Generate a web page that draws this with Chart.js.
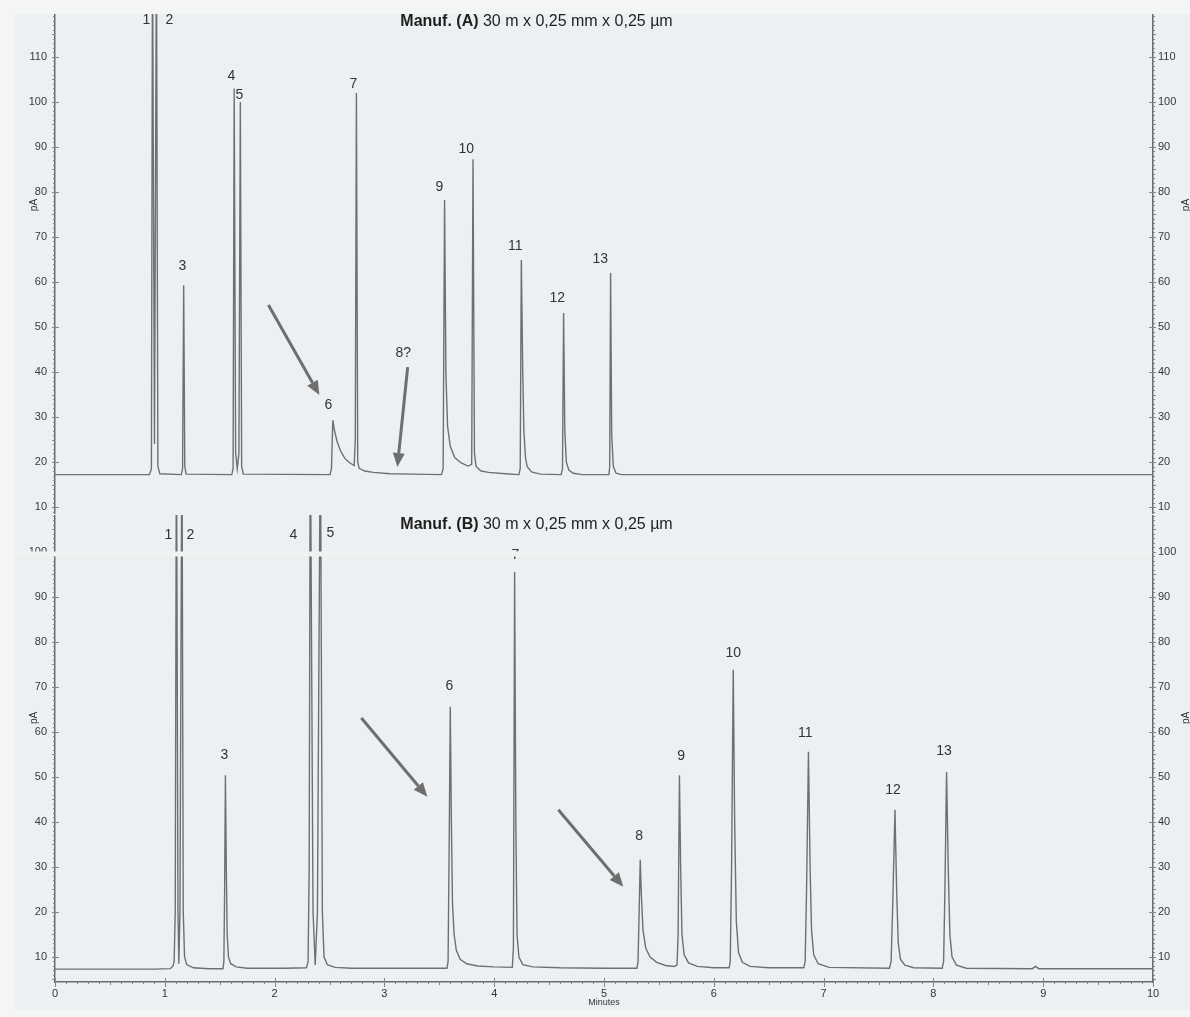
<!DOCTYPE html>
<html>
<head>
<meta charset="utf-8">
<title>Chromatogram comparison</title>
<script src="https://cdn.jsdelivr.net/npm/chart.js@4.4.1/dist/chart.umd.min.js"></script>
<style>
  html, body { margin: 0; padding: 0; background: #f4f5f5; }
  body { width: 1190px; height: 1017px; position: relative; overflow: hidden; }
  #panel { position: absolute; left: 15px; top: 14px; width: 1175px; height: 996px; background: #edf0f2; }
  canvas { position: absolute; left: 0; }
  #chartA { top: 14px; }
  #chartB { top: 515px; }
</style>
</head>
<body>
<div id="panel"></div>
<canvas id="chartA" width="1190" height="500"></canvas>
<canvas id="chartB" width="1190" height="495"></canvas>
<script>
// ---- Manuf. (A) trace: retention time (min) / signal (pA) ----
const timeA = [0, 0.86, 0.878, 0.888, 0.906, 0.924, 0.937, 0.955,
  1.15, 1.162, 1.172, 1.182, 1.195,
  1.61, 1.622, 1.632, 1.645, 1.66, 1.675, 1.688, 1.70, 1.715,
  2.505, 2.518, 2.53, 2.545, 2.57, 2.6, 2.64, 2.68, 2.725,
  2.735, 2.745, 2.757, 2.77, 2.82, 2.9, 3.05, 3.25,
  3.52, 3.535, 3.548, 3.56, 3.575, 3.6, 3.64, 3.7, 3.76,
  3.795, 3.807, 3.82, 3.835, 3.88, 3.95, 4.1,
  4.225, 4.237, 4.247, 4.26, 4.27, 4.285, 4.30, 4.34, 4.42,
  4.61, 4.622, 4.632, 4.643, 4.657, 4.68, 4.72, 4.8,
  5.045, 5.052, 5.06, 5.07, 5.085, 5.11, 5.16, 10];
const signalA = [17.2, 17.2, 18.5, 135, 24, 135, 19, 17.4,
  17.2, 18.5, 59.3, 19, 17.3,
  17.2, 18.5, 103, 22, 18.5, 22, 100, 19, 17.3,
  17.2, 18.5, 29.3, 27, 24.5, 22.5, 20.8, 19.9, 19.2,
  25, 102, 20, 18.6, 18, 17.7, 17.4, 17.3,
  17.2, 18.5, 78.2, 40, 28, 23.5, 21, 19.8, 19.1,
  19.5, 87.3, 22, 19, 18, 17.7, 17.4,
  17.2, 18.5, 64.9, 40, 27, 21, 19, 17.8, 17.3,
  17.2, 18.5, 53.1, 27, 20, 18.2, 17.5, 17.2,
  17.2, 19, 62, 26, 19, 17.5, 17.2, 17.2];

// ---- Manuf. (B) trace ----
const timeB = [0, 0.9, 1.05, 1.075, 1.085, 1.095, 1.106, 1.12, 1.128, 1.138, 1.156, 1.168, 1.18, 1.2, 1.26, 1.4,
  1.53, 1.538, 1.545, 1.552, 1.56, 1.568, 1.58, 1.6, 1.65, 1.75, 2.1,
  2.29, 2.305, 2.315, 2.325, 2.35, 2.37, 2.39, 2.417, 2.435, 2.45, 2.48, 2.55, 2.7,
  3.57, 3.58, 3.59, 3.60, 3.61, 3.62, 3.635, 3.655, 3.69, 3.75, 3.85, 4.0,
  4.165, 4.175, 4.186, 4.197, 4.208, 4.225, 4.26, 4.35, 4.6, 5.0,
  5.3, 5.31, 5.32, 5.33, 5.34, 5.355, 5.38, 5.42, 5.48, 5.56, 5.64,
  5.665, 5.675, 5.687, 5.698, 5.71, 5.73, 5.77, 5.85, 6.0,
  6.14, 6.15, 6.162, 6.177, 6.19, 6.205, 6.225, 6.26, 6.33, 6.5,
  6.82, 6.832, 6.845, 6.862, 6.877, 6.89, 6.91, 6.95, 7.05,
  7.6, 7.615, 7.63, 7.65, 7.665, 7.68, 7.7, 7.74, 7.82,
  8.08, 8.093, 8.105, 8.12, 8.135, 8.15, 8.17, 8.21, 8.3,
  8.9, 8.93, 8.96, 10];
const signalB = [7.3, 7.3, 7.4, 8, 9, 20, 130, 20, 8.5, 20, 130, 20, 10, 8.3, 7.6, 7.4,
  7.4, 9, 25, 50.4, 30, 15, 10, 8.5, 7.8, 7.5, 7.5,
  7.6, 9, 30, 130, 20, 8.2, 20, 130, 20, 10, 8.3, 7.7, 7.5,
  7.5, 9, 35, 65.6, 40, 22, 15, 11.5, 9.5, 8.5, 8, 7.8,
  7.7, 12, 95.6, 40, 15, 10, 8.3, 7.8, 7.6, 7.5,
  7.5, 9, 20, 31.6, 24, 16, 12, 10, 8.8, 8.1, 7.9,
  8.2, 15, 50.4, 30, 15, 10.5, 8.7, 7.9, 7.6,
  7.6, 9, 30, 73.8, 40, 18, 11, 8.8, 7.9, 7.6,
  7.6, 9, 25, 55.6, 30, 16, 10.5, 8.5, 7.7,
  7.5, 9, 22, 42.7, 25, 13, 9.5, 8.2, 7.6,
  7.5, 9, 25, 51.1, 30, 15, 10, 8.2, 7.5,
  7.4, 7.9, 7.4, 7.4];

// peak numbers and where they are written (min / pA)
const peakLabelsA = ["1", "2", "3", "4", "5", "6", "7", "8?", "9", "10", "11", "12", "13"];
const labelTimeA = [0.833, 1.042, 1.161, 1.607, 1.68, 2.49, 2.717, 3.172, 3.5, 3.746, 4.192, 4.574, 4.966];
const labelLevelA = [118.2, 118.2, 63.6, 105.8, 101.6, 32.7, 104, 44.2, 81.1, 89.6, 68, 56.4, 65.1];

const peakLabelsB = ["1", "2", "3", "4", "5", "6", "7", "8", "9", "10", "11", "12", "13"];
const labelTimeB = [1.033, 1.233, 1.543, 2.171, 2.508, 3.591, 4.192, 5.321, 5.703, 6.177, 6.832, 7.633, 8.097];
const labelLevelB = [103.8, 103.8, 54.9, 103.8, 104.2, 70.2, 99.2, 36.9, 54.7, 77.6, 59.8, 47.1, 55.8];

// arrows: [from time, from pA, to time, to pA]
const arrowsA = [[1.944, 54.9, 2.408, 34.9], [3.212, 41.1, 3.118, 18.9]];
const arrowsB = [[2.79, 63.1, 3.391, 45.6], [4.584, 42.7, 5.176, 25.6]];

const FONT = "'Liberation Sans', Arial, Helvetica, sans-serif";
Chart.defaults.font.family = FONT;

// Draws ticks, peak numbers, arrows, header and axis titles
const decorPlugin = {
  id: "decor",
  afterDraw(chart, args, o) {
    const ctx = chart.ctx;
    const xs = chart.scales.x, ys = chart.scales.y;
    const area = chart.chartArea;
    ctx.save();

    // y ticks on both axes
    ctx.strokeStyle = "#858585";
    ctx.lineWidth = 1;
    ctx.beginPath();
    for (let v = Math.ceil(ys.min); v <= ys.max; v++) {
      const py = Math.round(ys.getPixelForValue(v)) + 0.5;
      const out = v % 5 === 0 ? 3 : 2;
      ctx.moveTo(area.left - out, py); ctx.lineTo(area.left, py);
      ctx.moveTo(area.right, py); ctx.lineTo(area.right + out, py);
      if (v % 10 === 0) {
        ctx.moveTo(area.left, py); ctx.lineTo(area.left + 4, py);
        ctx.moveTo(area.right - 4, py); ctx.lineTo(area.right, py);
      }
    }
    ctx.stroke();

    // x ticks (only where the axis is shown)
    if (o.xAxis) {
      ctx.beginPath();
      for (let i = 0; i <= 100; i++) {
        const px = Math.round(xs.getPixelForValue(i / 10)) + 0.5;
        const len = i % 10 === 0 ? 5 : (i % 5 === 0 ? 3 : 2);
        ctx.moveTo(px, area.bottom - (i % 10 === 0 ? 4 : 0));
        ctx.lineTo(px, area.bottom + len);
      }
      ctx.stroke();
      ctx.fillStyle = "#333";
      ctx.font = "9px " + FONT;
      ctx.textAlign = "center";
      ctx.textBaseline = "middle";
      ctx.fillText("Minutes", xs.getPixelForValue(5), area.bottom + 21);
    }

    // arrows
    ctx.strokeStyle = "#6e6e6e";
    ctx.fillStyle = "#6e6e6e";
    ctx.lineWidth = 3;
    o.arrows.forEach(a => {
      const x1 = xs.getPixelForValue(a[0]), y1 = ys.getPixelForValue(a[1]);
      const x2 = xs.getPixelForValue(a[2]), y2 = ys.getPixelForValue(a[3]);
      const ang = Math.atan2(y2 - y1, x2 - x1);
      const bx = x2 - 14 * Math.cos(ang), by = y2 - 14 * Math.sin(ang);
      ctx.beginPath(); ctx.moveTo(x1, y1); ctx.lineTo(bx, by); ctx.stroke();
      ctx.beginPath();
      ctx.moveTo(x2, y2);
      ctx.lineTo(bx + 6 * Math.sin(ang), by - 6 * Math.cos(ang));
      ctx.lineTo(bx - 6 * Math.sin(ang), by + 6 * Math.cos(ang));
      ctx.closePath(); ctx.fill();
    });

    // peak numbers
    ctx.fillStyle = "#333";
    ctx.font = "14px " + FONT;
    ctx.textAlign = "center";
    ctx.textBaseline = "middle";
    o.labels.forEach((t, i) => {
      ctx.fillText(t, xs.getPixelForValue(o.labelX[i]), ys.getPixelForValue(o.labelY[i]));
    });

    // paste seam across the top of panel B
    if (o.seam) {
      ctx.fillStyle = "#f1f3f3";
      const sy = ys.getPixelForValue(o.seam);
      ctx.fillRect(15, sy, area.right - 16, 5);
    }

    // header
    const hx = xs.getPixelForValue(3.145), hy = ys.getPixelForValue(o.headerLevel);
    ctx.textAlign = "left";
    ctx.fillStyle = "#1e1e1e";
    ctx.font = "bold 16px " + FONT;
    ctx.fillText(o.headerBold, hx, hy);
    const w = ctx.measureText(o.headerBold + " ").width;
    ctx.font = "16px " + FONT;
    ctx.fillText(o.headerText, hx + w, hy);

    // pA titles
    ctx.font = "10px " + FONT;
    ctx.fillStyle = "#333";
    ctx.textAlign = "center";
    const ty = ys.getPixelForValue(o.unitLevel);
    [area.left - 21, area.right + 33].forEach(tx => {
      ctx.save();
      ctx.translate(tx, ty);
      ctx.rotate(-Math.PI / 2);
      ctx.fillText("pA", 0, 0);
      ctx.restore();
    });
    ctx.restore();
  }
};

function yAxis(position, yMin, yMax) {
  return {
    type: "linear",
    position: position,
    min: yMin,
    max: yMax,
    afterFit: s => {
      s.width = position === "left" ? 55 : 37;
      s.paddingTop = 0;
      s.paddingBottom = 0;
    },
    afterBuildTicks: s => { s.ticks = s.ticks.filter(t => t.value % 10 === 0); },
    grid: { display: false, drawTicks: false },
    border: { display: true, color: "#6a6a6a", width: 1.5 },
    ticks: { stepSize: 10, includeBounds: false, padding: position === "left" ? 8 : 5, color: "#383838", font: { size: 11 } }
  };
}

function makeChart(id, times, values, yMin, yMax, deco) {
  const ctx = document.getElementById(id).getContext("2d");
  return new Chart(ctx, {
    type: "line",
    data: {
      datasets: [{
        data: times.map((t, i) => ({ x: t, y: values[i] })),
        borderColor: "#6f6f6f",
        borderWidth: 1.4,
        pointRadius: 0,
        tension: 0,
        fill: false
      }]
    },
    options: {
      responsive: false,
      animation: false,
      devicePixelRatio: 1,
      layout: { padding: 0 },
      scales: {
        x: {
          type: "linear",
          min: 0,
          max: 10,
          display: deco.xAxis,
          afterFit: s => {
            s.height = deco.xAxis ? 28 : 0;
            s.paddingLeft = 0;
            s.paddingRight = 0;
          },
          grid: { display: false, drawTicks: false },
          border: { display: true, color: "#6a6a6a", width: 1.5 },
          ticks: { stepSize: 1, padding: 5, color: "#333", font: { size: 11 } }
        },
        y: yAxis("left", yMin, yMax),
        y2: yAxis("right", yMin, yMax)
      },
      plugins: {
        legend: { display: false },
        tooltip: { enabled: false },
        decor: deco
      }
    },
    plugins: [decorPlugin]
  });
}

makeChart("chartA", timeA, signalA, 8.45, 119.55, {
  xAxis: false,
  labels: peakLabelsA, labelX: labelTimeA, labelY: labelLevelA,
  arrows: arrowsA,
  headerBold: "Manuf. (A)", headerText: "30 m x 0,25 mm x 0,25 µm", headerLevel: 117.8,
  unitLevel: 77.1,
  seam: null
});

makeChart("chartB", timeB, signalB, 4.44, 108.2, {
  xAxis: true,
  labels: peakLabelsB, labelX: labelTimeB, labelY: labelLevelB,
  arrows: arrowsB,
  headerBold: "Manuf. (B)", headerText: "30 m x 0,25 mm x 0,25 µm", headerLevel: 106,
  unitLevel: 63.1,
  seam: 100.1
});
</script>
</body>
</html>
